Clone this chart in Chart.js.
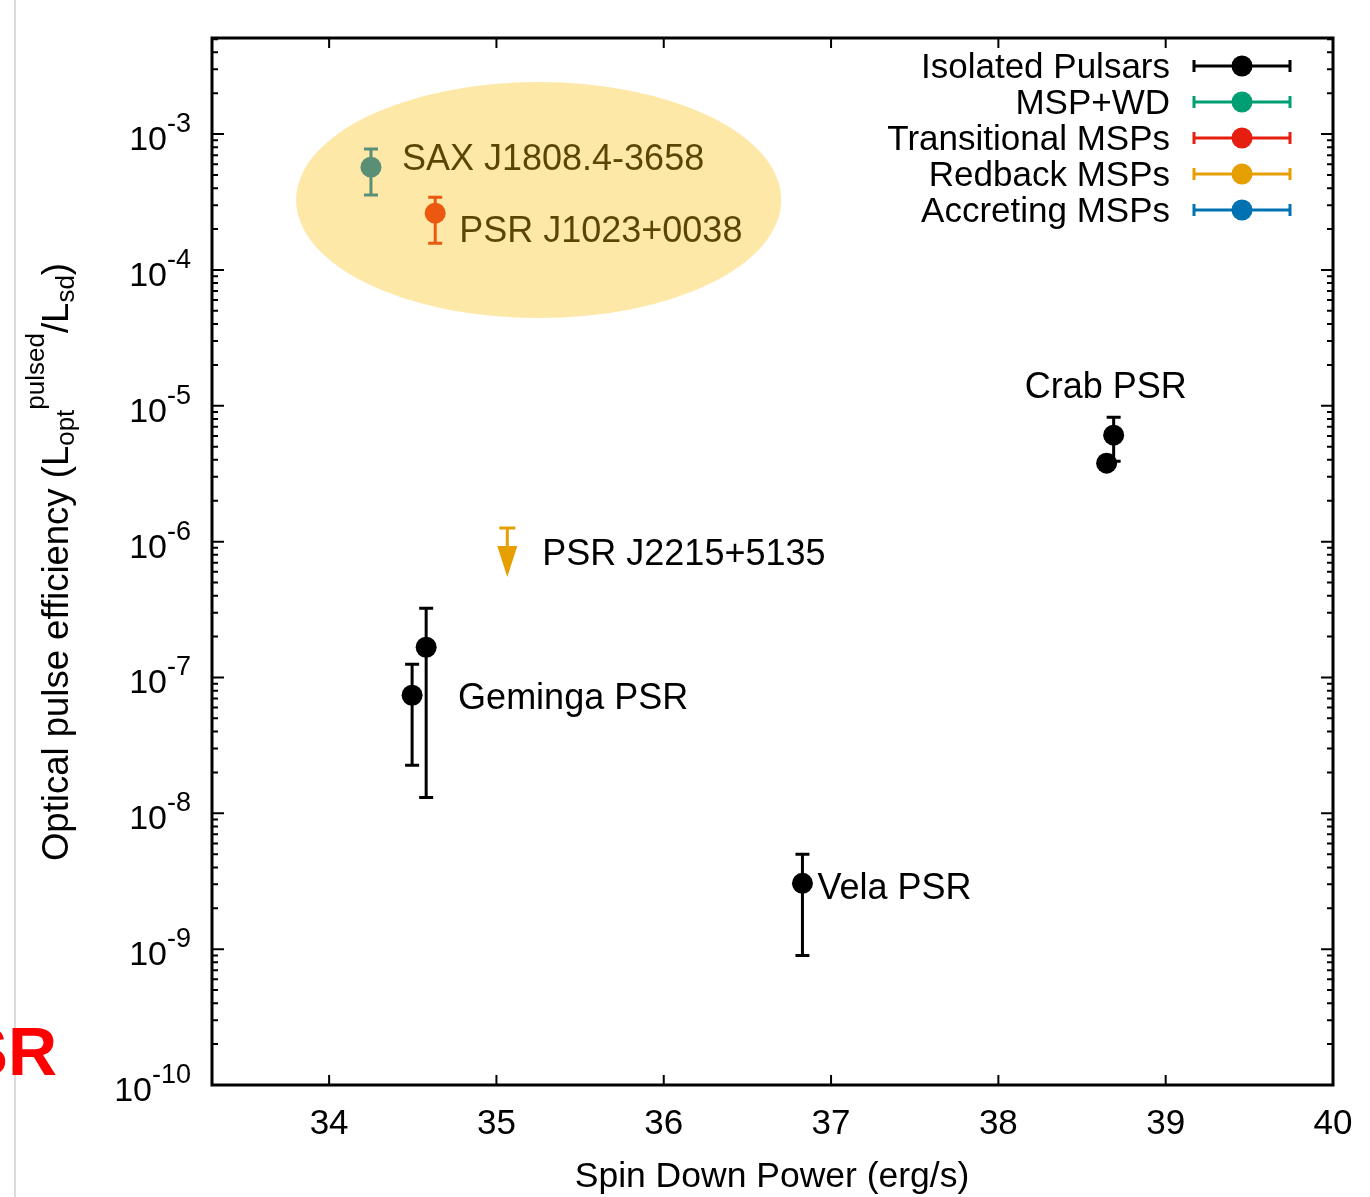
<!DOCTYPE html>
<html>
<head>
<meta charset="utf-8">
<script src="https://cdn.jsdelivr.net/npm/chart.js@4.4.0/dist/chart.umd.min.js"></script>
<style>
html, body { margin: 0; padding: 0; background: #fff; }
#wrap { position: relative; width: 1370px; height: 1197px; }
</style>
</head>
<body>
<div id="wrap"><canvas id="chart" width="1370" height="1197"></canvas></div>
<script>
// pulsar classes (legend order)
const classNames = ['Isolated Pulsars', 'MSP+WD', 'Transitional MSPs', 'Redback MSPs', 'Accreting MSPs'];
const classColors = ['#000000', '#009e73', '#e51e10', '#e69f00', '#0072b2'];

// one entry per measurement
const ptClass     = [4, 2, 3, 0, 0, 0, 0, 0];
const ptSpinDown  = [34.25, 34.634, 35.065, 34.496, 34.58, 36.829, 38.647, 38.689];
const ptEff       = [5.71e-4, 2.62e-4, null, 7.40e-8, 1.67e-7, 3.05e-9, 3.78e-6, 6.08e-6];
const ptEffLow    = [3.56e-4, 1.57e-4, null, 2.26e-8, 1.31e-8, 9.0e-10, null, 3.9e-6];
const ptEffHigh   = [7.76e-4, 3.43e-4, 1.26e-6, 1.25e-7, 3.23e-7, 4.99e-9, null, 8.24e-6];
const ptUpperLim  = [false, false, true, false, false, false, false, false];

// source labels and the point each one sits next to
const labelText  = ['SAX J1808.4-3658', 'PSR J1023+0038', 'PSR J2215+5135', 'Geminga PSR', 'Vela PSR', 'Crab PSR'];
const labelPoint = [0, 1, 2, 3, 5, 7];

// highlighted region (ellipse bounds, data units)
const highlightX = [33.803, 36.702];
const highlightY = [2.42e-3, 4.42e-5];

// axis ticks
const xTicks = [34, 35, 36, 37, 38, 39, 40];
const yTickExp = [-3, -4, -5, -6, -7, -8, -9, -10];

const FONT = '"Liberation Sans", Arial, Helvetica, sans-serif';
// label offsets from their anchor point (px)
const labelOffset = [[31, 3], [24, 29], [35, 37], [46, 14], [15, 16], [-89, -37]];

const datasets = classNames.map((name, c) => ({
    label: name,
    data: ptSpinDown
        .map((x, i) => ({ x: x, y: ptEff[i], i: i }))
        .filter(p => ptClass[p.i] === c && p.y !== null),
    backgroundColor: classColors[c],
    borderColor: classColors[c],
    borderWidth: 0,
    pointRadius: 10.5,
    pointHoverRadius: 10.5
}));

function anchorOf(chart, i) {
    const xs = chart.scales.x, ys = chart.scales.y;
    const v = ptEff[i] !== null ? ptEff[i] : ptEffHigh[i];
    return [xs.getPixelForValue(ptSpinDown[i]), ys.getPixelForValue(v)];
}

const gnuplotLook = {
    id: 'gnuplotLook',
    beforeDatasetsDraw(chart) {
        const ctx = chart.ctx, xs = chart.scales.x, ys = chart.scales.y;
        ctx.save();
        ctx.lineWidth = 3;
        ptSpinDown.forEach((x, i) => {
            const col = classColors[ptClass[i]];
            const px = xs.getPixelForValue(x);
            ctx.strokeStyle = col;
            ctx.fillStyle = col;
            if (ptUpperLim[i]) {
                const top = ys.getPixelForValue(ptEffHigh[i]);
                ctx.beginPath();
                ctx.moveTo(px - 8, top); ctx.lineTo(px + 8, top);
                ctx.moveTo(px, top); ctx.lineTo(px, top + 22);
                ctx.stroke();
                ctx.beginPath();
                ctx.moveTo(px - 10, top + 18);
                ctx.lineTo(px + 10, top + 18);
                ctx.lineTo(px, top + 49);
                ctx.closePath();
                ctx.fill();
                return;
            }
            if (ptEffHigh[i] === null) return;
            const hi = ys.getPixelForValue(ptEffHigh[i]);
            const lo = ys.getPixelForValue(ptEffLow[i]);
            ctx.beginPath();
            ctx.moveTo(px, hi); ctx.lineTo(px, lo);
            ctx.moveTo(px - 7, hi); ctx.lineTo(px + 7, hi);
            ctx.moveTo(px - 7, lo); ctx.lineTo(px + 7, lo);
            ctx.stroke();
        });
        ctx.restore();
    },
    afterDatasetsDraw(chart) {
        const ctx = chart.ctx, xs = chart.scales.x, ys = chart.scales.y;
        const a = chart.chartArea;
        ctx.save();
        ctx.strokeStyle = '#000';
        ctx.fillStyle = '#000';

        // ticks
        ctx.lineWidth = 2;
        ctx.beginPath();
        xTicks.forEach(t => {
            const px = xs.getPixelForValue(t);
            ctx.moveTo(px, a.bottom); ctx.lineTo(px, a.bottom - 10);
            ctx.moveTo(px, a.top); ctx.lineTo(px, a.top + 10);
        });
        for (let e = -10; e <= -3; e++) {
            for (let m = 1; m <= 9; m++) {
                const v = m * Math.pow(10, e);
                if (v < ys.min * 0.999 || v > ys.max * 1.001) continue;
                const py = ys.getPixelForValue(v);
                const len = m === 1 ? 12 : 6;
                ctx.moveTo(a.left, py); ctx.lineTo(a.left + len, py);
                ctx.moveTo(a.right, py); ctx.lineTo(a.right - len, py);
            }
        }
        ctx.stroke();

        // frame
        ctx.lineWidth = 3;
        ctx.strokeRect(a.left, a.top, a.right - a.left, a.bottom - a.top);

        // x tick labels
        ctx.font = '35px ' + FONT;
        ctx.textAlign = 'center';
        ctx.textBaseline = 'alphabetic';
        xTicks.forEach(t => ctx.fillText(String(t), xs.getPixelForValue(t), 1134));

        // y tick labels 10^n
        yTickExp.forEach(e => {
            const py = ys.getPixelForValue(Math.pow(10, e));
            const ex = '-' + Math.abs(e);
            ctx.font = '27px ' + FONT;
            ctx.textAlign = 'right';
            const ew = ctx.measureText(ex).width;
            ctx.fillText(ex, 191, py - 2);
            ctx.font = '34px ' + FONT;
            ctx.fillText('10', 191 - ew, py + 16);
        });

        // x title
        ctx.font = '35.5px ' + FONT;
        ctx.textAlign = 'center';
        ctx.fillText('Spin Down Power (erg/s)', 772, 1187);

        // y title with sub/superscripts
        const segs = [
            { t: 'Optical pulse efficiency (L', f: 36.5, dy: 0 },
            { t: 'opt', f: 26, dy: 6 },
            { t: 'pulsed', f: 26, dy: -24 },
            { t: '/L', f: 36.5, dy: 0 },
            { t: 'sd', f: 26, dy: 6 },
            { t: ')', f: 36.5, dy: 0 }
        ];
        let total = 0;
        segs.forEach(s => { ctx.font = s.f + 'px ' + FONT; s.w = ctx.measureText(s.t).width; total += s.w; });
        ctx.save();
        ctx.translate(68, 562);
        ctx.rotate(-Math.PI / 2);
        ctx.textAlign = 'left';
        let cx = -total / 2;
        segs.forEach(s => {
            ctx.font = s.f + 'px ' + FONT;
            ctx.fillText(s.t, cx, s.dy);
            cx += s.w;
        });
        ctx.restore();

        // source labels
        ctx.font = '36px ' + FONT;
        ctx.textAlign = 'left';
        labelText.forEach((t, k) => {
            const p = anchorOf(chart, labelPoint[k]);
            ctx.fillText(t, p[0] + labelOffset[k][0], p[1] + labelOffset[k][1]);
        });

        // legend
        classNames.forEach((name, c) => {
            const y = 66 + c * 36;
            ctx.fillStyle = '#000';
            ctx.font = '35px ' + FONT;
            ctx.textAlign = 'right';
            ctx.fillText(name, 1170, y + 12);
            ctx.strokeStyle = classColors[c];
            ctx.fillStyle = classColors[c];
            ctx.lineWidth = 3;
            ctx.beginPath();
            ctx.moveTo(1194, y); ctx.lineTo(1290, y);
            ctx.moveTo(1194, y - 6); ctx.lineTo(1194, y + 6);
            ctx.moveTo(1290, y - 6); ctx.lineTo(1290, y + 6);
            ctx.stroke();
            ctx.beginPath();
            ctx.arc(1242, y, 10.5, 0, Math.PI * 2);
            ctx.fill();
        });
        ctx.restore();
    },
    afterDraw(chart) {
        const ctx = chart.ctx, xs = chart.scales.x, ys = chart.scales.y;
        const x0 = xs.getPixelForValue(highlightX[0]), x1 = xs.getPixelForValue(highlightX[1]);
        const y0 = ys.getPixelForValue(highlightY[0]), y1 = ys.getPixelForValue(highlightY[1]);
        ctx.save();
        ctx.fillStyle = 'rgba(250, 192, 14, 0.36)';
        ctx.beginPath();
        ctx.ellipse((x0 + x1) / 2, (y0 + y1) / 2, (x1 - x0) / 2, (y1 - y0) / 2, 0, 0, Math.PI * 2);
        ctx.fill();

        // slide leftovers around the figure
        ctx.fillStyle = '#dcdcdc';
        ctx.fillRect(14, 0, 2, chart.height);
        ctx.fillStyle = '#ff0000';
        ctx.font = 'bold 68px ' + FONT;
        ctx.textAlign = 'right';
        ctx.fillText('SR', 57, 1075);
        ctx.restore();
    }
};

new Chart(document.getElementById('chart').getContext('2d'), {
    type: 'scatter',
    data: { datasets: datasets },
    options: {
        responsive: false,
        animation: false,
        events: [],
        layout: { padding: { left: 212, top: 38, right: 37, bottom: 112 } },
        plugins: { legend: { display: false }, tooltip: { enabled: false } },
        scales: {
            x: { type: 'linear', min: 33.3, max: 40, display: false },
            y: { type: 'logarithmic', min: 1e-10, max: 5.1e-3, display: false }
        }
    },
    plugins: [gnuplotLook]
});
</script>
</body>
</html>
